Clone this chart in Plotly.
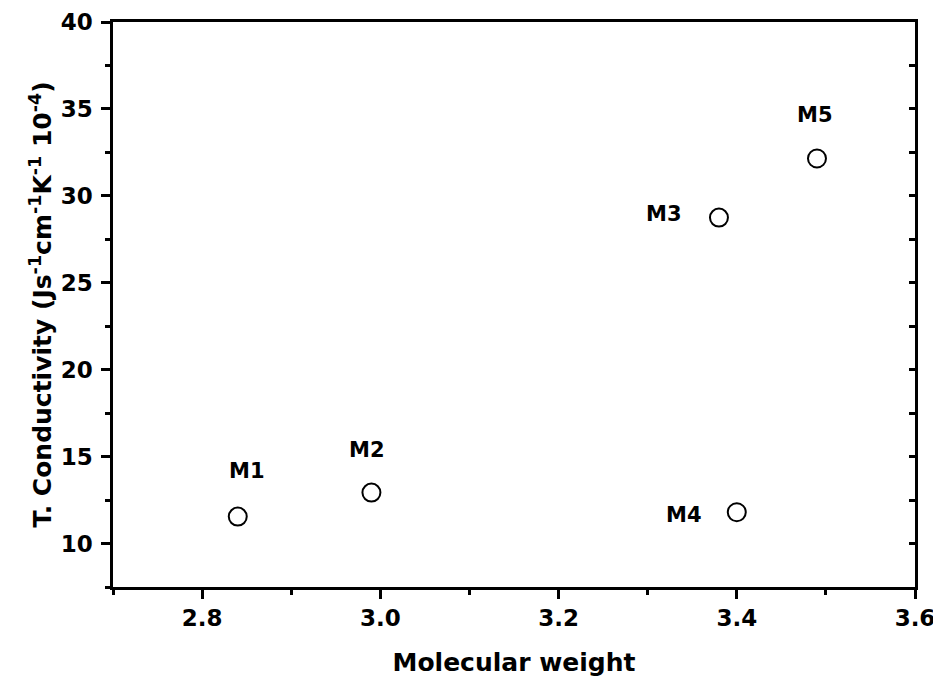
import plotly.graph_objects as go

names = ["M1", "M2", "M3", "M4", "M5"]
mol_weight = [2.84, 2.99, 3.38, 3.40, 3.49]
conductivity = [11.55, 12.93, 28.75, 11.8, 32.15]

# label offsets in pixels (style only)
label_dx = [9, -4, -55, -53, -2]
label_dy = [46, 43, 4, -3, 43]

FONT = "DejaVu Sans, Liberation Sans, Arial, sans-serif"

fig = go.Figure()
fig.add_trace(go.Scatter(
    x=mol_weight, y=conductivity, mode="markers",
    marker=dict(symbol="circle-open", size=18, color="black", line=dict(width=2, color="black")),
    showlegend=False, hoverinfo="x+y",
))
# invisible trace to activate the right-side tick axis
fig.add_trace(go.Scatter(x=[mol_weight[0]], y=[conductivity[0]], yaxis="y2",
                         mode="markers", marker=dict(opacity=0), showlegend=False, hoverinfo="skip"))

for n, x, y, dx, dy in zip(names, mol_weight, conductivity, label_dx, label_dy):
    fig.add_annotation(x=x, y=y, text="<b>%s</b>" % n, showarrow=False,
                       xshift=dx, yshift=dy, font=dict(family=FONT, size=21, color="black"))

# the page body has an 8px default margin, so the figure is offset by 8px
fig.update_layout(
    width=933, height=672,
    margin=dict(l=105, r=26, t=14, b=93),
    paper_bgcolor="white", plot_bgcolor="white",
    font=dict(family=FONT, color="black"),
    xaxis=dict(
        range=[2.7, 3.6], dtick=0.2, tick0=2.8, tickformat=".1f", automargin=False,
        showgrid=False, zeroline=False,
        showline=True, linewidth=2.5, linecolor="black", mirror=True,
        ticks="outside", ticklen=9, tickwidth=2.5, tickcolor="black",
        minor=dict(ticks="outside", ticklen=5, tickwidth=2.5, dtick=0.1, tick0=2.7, tickcolor="black"),
        tickfont=dict(family=FONT, size=23, color="black", weight="bold"),
        title=dict(text="<b>Molecular weight</b>", font=dict(family=FONT, size=25, color="black"), standoff=24),
    ),
    yaxis=dict(
        range=[7.5, 40], dtick=5, tick0=10, automargin=False,
        showgrid=False, zeroline=False,
        showline=True, linewidth=2.5, linecolor="black", mirror=True,
        ticks="outside", ticklen=9, tickwidth=2.5, tickcolor="black",
        minor=dict(ticks="outside", ticklen=5, tickwidth=2.5, dtick=2.5, tick0=7.5, tickcolor="black"),
        tickfont=dict(family=FONT, size=23, color="black", weight="bold"),
        ticklabelstandoff=4,
        title=dict(text="<b>T. Conductivity (Js<sup>-1</sup>cm<sup>-1</sup>K<sup>-1</sup> 10<sup>-4</sup>)</b>",
                   font=dict(family=FONT, size=25, color="black"), standoff=2),
    ),
    yaxis2=dict(
        range=[7.5, 40], dtick=5, tick0=10, overlaying="y", side="right", automargin=False,
        showgrid=False, zeroline=False, showline=False, showticklabels=False,
        ticks="inside", ticklen=6, tickwidth=2.5, tickcolor="black",
        minor=dict(ticks="inside", ticklen=6, tickwidth=2.5, dtick=2.5, tick0=7.5, tickcolor="black"),
    ),
)

fig.write_html("out.html")
